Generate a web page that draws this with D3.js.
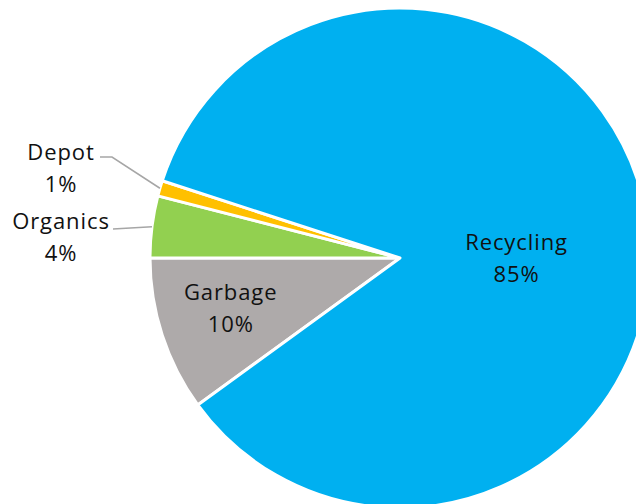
<!DOCTYPE html>
<html>
<head>
<meta charset="utf-8">
<style>
  body { margin: 0; background: #fff; }
  svg { display: block; }
  .lbl { font-family: 'Open Sans', 'Noto Sans', sans-serif; font-size: 22px; letter-spacing: 0.9px; fill: #111; }
</style>
</head>
<body>
<svg width="636" height="504"></svg>
<script src="https://d3js.org/d3.v7.min.js"></script>
<script>
  // slice data, drawn clockwise starting from the lower-left
  let categories = ["Garbage", "Organics", "Depot", "Recycling"];
  let values = [10, 4, 1, 85];
  let colors = ["#AEAAAA", "#92D050", "#FFC000", "#00B0F0"];

  let width = 636, height = 504;
  let cx = 400, cy = 258, radius = 250;

  let svg = d3.select("svg");

  let data = categories.map((c, i) => ({ name: c, value: values[i], color: colors[i] }));

  // Garbage ends at 9 o'clock, so start at 270deg minus its share
  let start = 1.5 * Math.PI - 2 * Math.PI * values[0] / d3.sum(values);

  let pie = d3.pie()
    .sort(null)
    .value(d => d.value)
    .startAngle(start)
    .endAngle(start + 2 * Math.PI);

  let arcs = pie(data);

  let arc = d3.arc().innerRadius(0).outerRadius(radius);

  let g = svg.append("g").attr("transform", `translate(${cx},${cy})`);

  g.selectAll("path")
    .data(arcs)
    .join("path")
    .attr("d", arc)
    .style("fill", d => d.data.color)
    .style("stroke", "#fff")
    .style("stroke-width", "3px")
    .style("stroke-linejoin", "round");

  // labels inside big slices (dy moves the first baseline from the centroid)
  let inner = {
    Garbage: { r: 178, dx: 0, dy: -13 },
    Recycling: { r: 118, dx: 0, dy: 10 }
  };
  // labels outside small slices, with leader lines
  let outer = {
    Depot: { x: 61, y: 160, lineStart: [100, 157], elbow: [112, 157] },
    Organics: { x: 61, y: 229, lineStart: [113, 229], elbow: [113, 229] }
  };

  arcs.forEach(d => {
    let name = d.data.name;
    let pct = Math.round(d.value / d3.sum(values) * 100) + "%";
    let lx, ly;
    if (inner[name]) {
      let c = d3.arc().innerRadius(inner[name].r).outerRadius(inner[name].r).centroid(d);
      lx = cx + c[0] + inner[name].dx;
      ly = cy + c[1] + inner[name].dy;
    } else {
      let o = outer[name];
      lx = o.x;
      ly = o.y;
      let edge = d3.arc().innerRadius(radius).outerRadius(radius).centroid(d);
      svg.append("polyline")
        .attr("points", [o.lineStart, o.elbow, [cx + edge[0], cy + edge[1]]].map(p => p.join(",")).join(" "))
        .style("fill", "none")
        .style("stroke", "#A6A6A6")
        .style("stroke-width", "1.5px");
    }
    let t = svg.append("text")
      .attr("class", "lbl")
      .attr("text-anchor", "middle")
      .attr("y", ly);
    t.append("tspan").attr("x", lx).text(name);
    t.append("tspan").attr("x", lx).attr("dy", "32px").text(pct);
  });
</script>
</body>
</html>
